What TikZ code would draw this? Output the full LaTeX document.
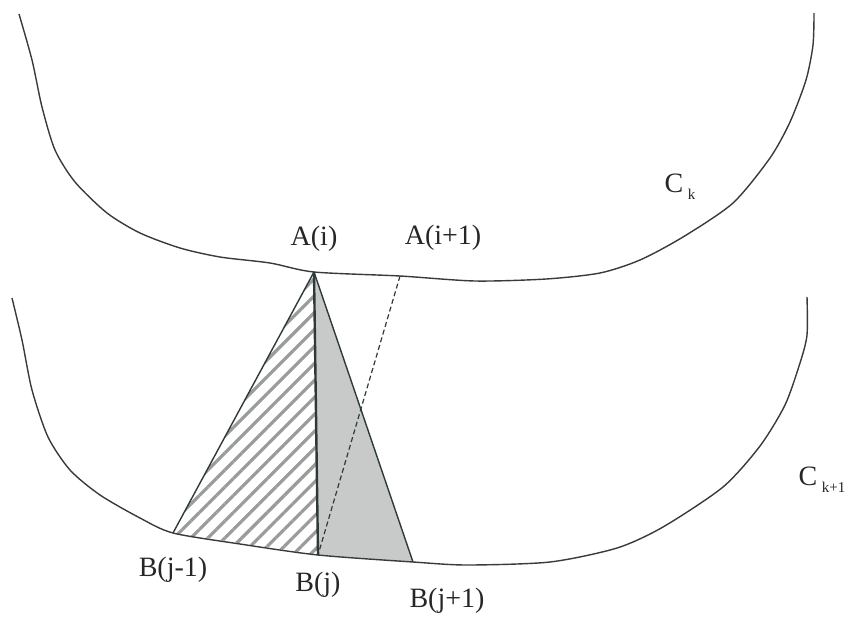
\documentclass[tikz,border=0pt]{standalone}
\usepackage{fontspec}
\setmainfont{Liberation Serif}
\usetikzlibrary{patterns.meta,positioning}
\definecolor{CurveGray}{HTML}{3A3A3A}
\definecolor{EdgeGray}{HTML}{2E3A3A}
\definecolor{ShadeGray}{HTML}{C8CACA}
\definecolor{HatchGray}{HTML}{9A9C9C}

\begin{document}
\begin{tikzpicture}[
  x=1pt,y=-1pt,
  curve/.style={CurveGray,line width=1.4pt,line join=round,smooth,tension=0.45},
  edge/.style={EdgeGray,line width=1.4pt},
  spoke/.style={EdgeGray,line width=2.4pt},
  diag/.style={EdgeGray,line width=1.2pt,dash pattern=on 5pt off 3pt},
  hatched/.style={pattern={Lines[angle=45,distance=12pt,line width=3.2pt]},pattern color=HatchGray},
  shaded/.style={fill=ShadeGray},
  lbl/.style={font=\fontsize{28}{32}\selectfont,inner sep=0pt,text=black!85}
]
\useasboundingbox (0,0) rectangle (856,627);

\coordinate (Ai)  at (314,272);
\coordinate (Ai1) at (400,276);
\coordinate (Bjm) at (173,533);
\coordinate (Bj)  at (318,555);
\coordinate (Bjp) at (413,562);

\fill[hatched] (Ai) -- (Bjm) -- (Bj) -- cycle;
\fill[shaded]  (Ai) -- (Bj) -- (Bjp) -- cycle;

\draw[curve] plot coordinates {(19,14) (32,60) (42,107) (55,150) (75,182) (107,213)
  (140,233) (180,248) (220,257) (270,263) (314,272)
  (400,276) (475,281) (546,279) (600,273) (640,260) (683,237) (733,203)
  (770,158) (790,122) (806,80) (813,45) (814,13)};
\draw[curve] plot coordinates {(12,298) (22,340) (32,390) (48,437) (70,470) (100,495)
  (140,518) (173,533) (240,544) (318,555) (413,562) (467,565)
  (550,562) (617,548) (663,527) (723,487) (760,446) (785,405) (800,363) (807,335)
  (807,297)};

\draw[edge] (Ai) -- (Bjm);
\draw[edge] (Ai) -- (Bjp);
\draw[diag] (Ai1) -- (Bj);
\draw[spoke] (Ai) -- (Bj);

\node[lbl,above=20pt of Ai] (lAi) {A(i)};
\node[lbl] (lAi1) at (443,238) {A(i+1)};
\node[lbl] (lCk) at (680,187) {C\,\raisebox{-0.55ex}{\fontsize{15}{15}\selectfont k}};
\node[lbl,below=24pt of Bjm] (lBjm) {B(j-1)};
\node[lbl,below=17pt of Bj] (lBj) {B(j)};
\node[lbl,below=26pt of Bjp,xshift=34pt] (lBjp) {B(j+1)};
\node[lbl] (lCk1) at (822,480) {C\,\raisebox{-0.55ex}{\fontsize{15}{15}\selectfont k+1}};
\end{tikzpicture}
\end{document}
